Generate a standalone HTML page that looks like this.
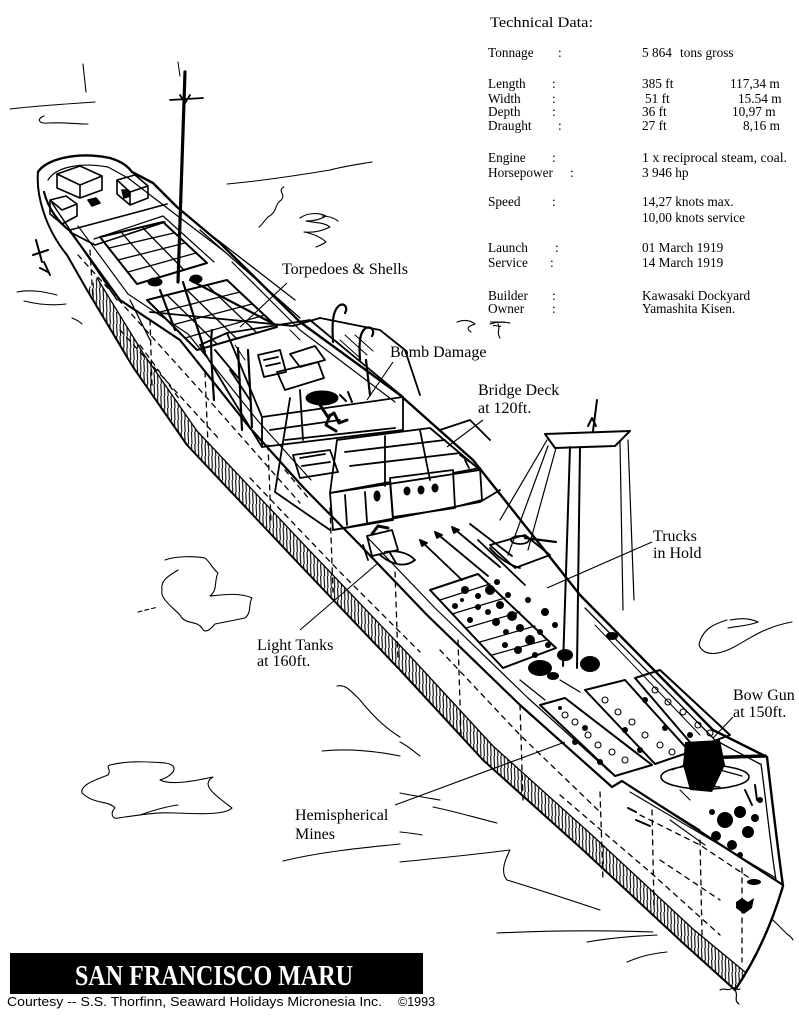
<!DOCTYPE html>
<html><head><meta charset="utf-8"><style>
html,body{margin:0;padding:0;background:#fff;}
svg{display:block;}
</style></head><body>
<svg width="799" height="1024" viewBox="0 0 799 1024" xmlns="http://www.w3.org/2000/svg">
<defs>
  <pattern id="hatch" patternUnits="userSpaceOnUse" width="3.4" height="12">
    <line x1="1" y1="0" x2="1.6" y2="12" stroke="#000" stroke-width="1.1"/>
  </pattern>
</defs>
<rect width="799" height="1024" fill="#fff"/>

<!-- ===== WATER SQUIGGLES ===== -->
<g fill="none" stroke="#000" stroke-width="1.1" stroke-linecap="round" stroke-linejoin="round">
  <path d="M83,64 L86,92"/>
  <path d="M10,109 C35,106 65,104 95,102"/>
  <path d="M44,116 c-8,3 -5,8 4,7 c14,-1 28,1 40,1"/>
  <path d="M227,184 C260,181 300,175 330,170 C345,166 360,164 372,162"/>
  <path d="M284,187 c-8,4 4,8 -4,14 c-6,5 -2,10 -12,16 c-4,4 -6,8 -9,10"/>
  <path d="M300,218 c8,-6 20,-5 26,-2 c-6,4 -14,5 -20,5 c8,2 18,1 24,6 c-8,4 -16,6 -26,5 c10,2 18,6 22,10 c-4,3 -8,4 -10,5"/>
  <path d="M322,216 c6,0 12,2 16,5"/>
  <path d="M17,292 c14,-3 28,0 40,3"/>
  <path d="M24,301 c12,3 26,5 42,3"/>
  <path d="M72,318 c5,2 8,4 10,6"/>
  <path d="M165,560 C175,556 195,556 205,558 C210,562 212,568 218,573 C214,580 218,590 210,596 C220,595 240,592 252,598 C248,605 252,612 245,618 C235,620 225,622 215,624 C210,630 205,634 202,628 C196,620 185,625 180,615 C170,605 160,598 162,590 C160,580 170,575 178,570"/>
  <path d="M138,612 L158,607" stroke-dasharray="4 3"/>
  <path d="M110,765 C130,760 150,762 165,763 C180,765 175,775 160,780 C170,785 190,782 213,777 C200,785 215,795 232,808 C225,815 200,814 175,813 C155,812 140,815 118,818 C112,820 110,812 115,808 C108,800 95,805 82,793 C80,785 95,780 108,775 C112,770 105,767 110,765"/>
  <path d="M140,815 C160,808 170,806 178,805"/>
  <path d="M337,686 C345,684 350,690 360,700 C372,715 385,728 400,737"/>
  <path d="M322,751 C350,748 380,752 400,756"/>
  <path d="M283,861 C320,852 360,848 400,844"/>
  <path d="M400,862 C440,858 480,854 510,850 C505,860 500,872 507,880 C540,890 570,900 600,910"/>
  <path d="M497,933 C540,931 600,930 653,932"/>
  <path d="M587,942 C610,938 635,936 657,935"/>
  <path d="M627,962 c10,-4 20,-8 40,-10"/>
  <path d="M400,742 c8,4 12,8 20,14"/>
  <path d="M400,793 c15,3 28,5 40,7"/>
  <path d="M433,807 c20,4 40,10 64,16"/>
  <path d="M400,832 c10,1 18,2 22,3"/>
  <path d="M727,620 c-10,3 -25,8 -28,25 c5,12 20,10 35,2 c15,-8 30,-20 58,-25"/>
  <path d="M730,620 c10,-2 20,-2 28,2 c-10,4 -20,4 -30,6"/>
  <path d="M773,920 c6,6 10,10 14,14 c3,2 5,4 6,6"/>
  <path d="M720,990 c5,-3 8,2 12,-2 c3,-2 5,3 8,1"/>
  <path d="M457,322 c8,-3 14,-1 18,2 c-6,2 -10,4 -4,8"/>
  <path d="M490,324 c6,-2 14,-2 20,-1 M498,324 c3,4 -2,8 2,14"/>
</g>

<!-- ===== SHIP ===== -->
<g fill="none" stroke="#000" stroke-linecap="round" stroke-linejoin="round">
  <!-- hull bottom hatched band -->
  <path d="M87,290 L133,367 L187,445 L300,565 L400,670 L483,760 L583,850 L683,943 L735,990 L745,972 L693,929 L593,836 L493,746 L410,656 L310,551 L197,431 L143,353 L97,278 Z" fill="url(#hatch)" stroke="none"/>
  <path d="M97,278 L143,353 L197,431 L310,551 L410,656 L493,746 L593,836 L693,929 L745,972" stroke-width="1.3"/>
  <!-- hull outer line -->
  <path d="M38,172 C36,195 45,228 67,255 L87,290 L133,367 L187,445 L300,565 L400,670 L483,760 L583,850 L683,943 L735,990" stroke-width="2"/>
  <!-- stern top & starboard deck edge -->
  <path d="M38,172 C45,160 75,151 110,158 C120,161 128,166 132,172 L153,183 L177,207 L220,243 L300,322 L400,395 L473,460 L580,595 L713,730 L767,757" stroke-width="2.4"/>
  <path d="M48,180 C56,167 80,162 108,167 L128,178 L175,214 L225,252" stroke-width="1.2"/>
  <path d="M232,262 L300,330 L395,402" stroke-width="1.2"/>
  <path d="M585,608 L715,740 L760,764" stroke-width="1.3"/>
  <path d="M595,625 L700,735" stroke-width="1"/>
  <!-- port deck edge -->
  <path d="M44,192 C48,208 58,222 70,231 L120,300 L180,340 L250,428 L303,487 L360,545 L427,615 L520,705 L612,787 L622,781 L783,885" stroke-width="2.2"/>
  <path d="M78,226 L128,294 L188,334 L258,421 L311,480" stroke-width="1.2"/>
  <path d="M368,538 L435,608 L528,698 L610,772" stroke-width="1.2"/>
  <path d="M52,203 L117,300" stroke-width="1.5"/>
  <path d="M630,792 L776,878" stroke-width="1.1"/>
  <!-- stem -->
  <path d="M767,757 C772,800 778,850 783,886 C770,930 752,965 735,990" stroke-width="2.4"/>
  <path d="M761,764 C766,800 771,850 776,880" stroke-width="1.3"/>
  <path d="M735,990 c4,6 -2,10 4,14" stroke-width="1.2"/>

  <!-- hull plating dashed lines -->
  <g stroke-width="1.3" stroke-dasharray="5 5">
    <path d="M78,255 L200,390 L300,503"/>
    <path d="M120,330 L220,440"/>
    <path d="M250,478 L340,572 L420,652"/>
    <path d="M440,650 L520,735 L600,812"/>
    <path d="M560,795 L650,872 L720,935"/>
    <path d="M640,815 L700,845 L760,885"/>
    <path d="M90,250 L93,300"/>
    <path d="M150,320 L152,385"/>
    <path d="M205,372 L208,445"/>
    <path d="M268,445 L271,522"/>
    <path d="M330,508 L333,592"/>
    <path d="M395,572 L398,660"/>
    <path d="M458,640 L461,735"/>
    <path d="M520,705 L523,800"/>
    <path d="M600,792 L603,880"/>
    <path d="M652,810 L654,905"/>
    <path d="M700,840 L702,935"/>
    <path d="M742,868 L742,962"/>
    <path d="M140,345 L180,400"/>
    <path d="M285,470 L310,500"/>
    <path d="M660,860 L720,900"/>
  </g>
  <!-- stern rudder scribble -->
  <path d="M36,240 L42,262 M33,255 L48,250 M44,262 L50,275 M40,268 l8,4" stroke-width="2"/>

  <!-- poop structures -->
  <g stroke-width="1.6">
    <path d="M57,174 L80,166 L102,176 L80,185 Z"/>
    <path d="M57,174 L57,188 L80,198 L102,190 L102,176 M80,185 L80,198"/>
    <path d="M117,180 L135,175 L148,186 L130,192 Z M117,180 L117,194 L130,205 L148,198 L148,186 M130,192 L130,205"/>
    <path d="M50,200 L66,196 L77,204 L62,210 Z M50,200 L50,214 L62,224 L77,216 L77,204"/>
    <path d="M70,230 L145,210 L167,204 M70,232 L95,245 L165,222"/>
    <path d="M88,200 l8,-2 l4,5 l-8,3 z" fill="#000"/>
    <path d="M122,190 l6,0 l2,6 l-6,2 z" fill="#000"/>
  </g>

  <!-- aft mast -->
  <path d="M185,72 L178,282" stroke-width="3.2"/>
  <path d="M170,100 L203,98 M180,95 l5,8 l5,-8" stroke-width="1.8"/>
  <path d="M178,62 L180,76" stroke-width="1"/>

  <!-- aft hatches -->
  <g stroke-width="2">
    <path d="M100,237 L163,222 L207,263 L137,284 Z"/>
    <path d="M147,300 L227,280 L277,327 L197,350 Z"/>
    <path d="M94,239 L163,216 L214,262" stroke-width="1.2"/>
  </g>
  <g stroke-width="1.3">
    <path d="M109,248 L174,233 M118,260 L185,243 M128,272 L196,253 M121,232 L160,277 M142,227 L184,270"/>
    <path d="M160,312 L240,292 M172,325 L252,304 M185,338 L265,315 M167,295 L217,344 M187,290 L237,339 M207,285 L257,333"/>
    <path d="M200,230 L300,318 M215,238 L295,300 M130,300 L150,340"/>
  </g>
  <ellipse cx="155" cy="282" rx="7" ry="4" fill="#000"/>
  <ellipse cx="196" cy="279" rx="6" ry="4" fill="#000"/>
  <path d="M183,282 L205,352 M190,280 L270,322 M160,290 L175,330" stroke-width="2.2"/>

  <!-- midship house -->
  <g stroke-width="1.8">
    <path d="M150,312 L293,326 L320,318"/>
    <path d="M227,333 L310,320 L403,397 L262,417 Z"/>
    <path d="M262,417 L262,447 L403,430 L403,397"/>
    <path d="M227,333 L200,345 L230,395 L262,447"/>
    <path d="M215,350 L240,380 M230,370 L250,400"/>
    <path d="M320,318 L380,330 L405,350 L420,395"/>
    <path d="M258,355 L280,350 L286,372 L264,377 Z M264,360 l14,-3 M266,366 l14,-3"/>
    <path d="M277,372 L318,362 L324,378 L285,390 Z"/>
    <path d="M290,354 L315,346 L325,360 L300,367 Z"/>
    <path d="M300,390 L303,440 M290,398 L275,492"/>
    <path d="M270,430 L340,420 M285,440 L395,428"/>
  </g>
  <g stroke-width="1">
    <path d="M340,340 l20,18 M345,335 l22,20 M355,335 l18,16 M290,330 l10,10 M235,345 l10,15"/>
  </g>
  <!-- davits -->
  <g stroke-width="2.2">
    <path d="M333,342 C332,325 332,310 340,305 C345,303 348,308 345,313"/>
    <path d="M360,360 C359,345 359,332 366,328 C372,326 375,331 372,336"/>
    <path d="M212,330 C210,345 212,370 214,400"/>
    <path d="M238,348 L242,430"/>
    <path d="M248,350 L252,427"/>
    <path d="M366,360 L370,395"/>
  </g>
  <!-- bomb damage -->
  <ellipse cx="322" cy="398" rx="16" ry="7" fill="#000"/>
  <path d="M320,405 l8,12 l6,-4 l5,10 l8,-3 M330,415 l-4,10 l10,6" stroke-width="3"/>
  <path d="M340,395 l6,6 M348,392 l4,10" stroke-width="2"/>

  <!-- bridge -->
  <g stroke-width="1.8">
    <path d="M337,440 L430,428 L480,470 L330,493 Z"/>
    <path d="M345,452 L445,440 M350,466 L460,453 M385,436 L385,486 M420,430 L430,480"/>
    <path d="M390,478 L453,470 L455,508 L393,517 Z"/>
    <path d="M330,493 L390,482 L393,520 L333,530 Z M345,495 L347,525 M365,492 L367,522"/>
    <path d="M453,473 L480,468 L482,500 L455,507"/>
    <path d="M293,455 L330,450 L338,472 L300,478 Z M300,458 l25,-4 M302,466 l28,-4"/>
    <path d="M333,530 L480,502 L500,490"/>
    <path d="M275,492 L330,530"/>
    <path d="M440,430 L470,420 L490,440"/>
    <path d="M460,455 L470,462 M465,460 l4,8"/>
  </g>
  <ellipse cx="407" cy="491" rx="3" ry="4" fill="#000"/>
  <ellipse cx="421" cy="490" rx="3" ry="4" fill="#000"/>
  <ellipse cx="435" cy="488" rx="3" ry="4" fill="#000"/>
  <ellipse cx="377" cy="496" rx="3" ry="5" fill="#000"/>

  <!-- forward deck: tanks and torpedo arrows -->
  <g stroke-width="1.8">
    <path d="M367,536 L392,530 L398,550 L372,556 Z"/>
    <path d="M363,545 L368,560 M390,553 l6,10"/>
    <path d="M372,534 l6,-8 l10,2" stroke-width="3"/>
    <path d="M380,555 C392,565 405,568 415,560 C408,552 395,550 385,552"/>
    <path d="M420,540 L462,580 M435,532 L488,576 M452,527 L500,567 M470,524 L512,556 M478,540 L525,585"/>
    <path d="M420,540 l2,6 l5,-3 z M435,532 l2,6 l5,-3 z M452,527 l2,6 l5,-3 z" fill="#000"/>
    <path d="M490,545 L525,535 L550,555 L515,568 Z"/>
    <ellipse cx="520" cy="540" rx="9" ry="4"/>
    <path d="M525,538 L556,542" stroke-width="2.2"/>
    <path d="M490,548 C500,560 512,566 520,568"/>
  </g>
  <!-- hatch 3 with debris -->
  <path d="M430,590 L478,574 L556,648 L503,668 Z" stroke-width="2"/>
  <path d="M440,600 L490,584 M452,614 L505,598 M466,628 L520,612 M480,642 L535,626 M492,655 L546,640" stroke-width="1.2"/>
  <g fill="#000" stroke="none">
    <circle cx="465" cy="590" r="4"/><circle cx="478" cy="596" r="3"/><circle cx="490" cy="590" r="5"/>
    <circle cx="500" cy="605" r="4"/><circle cx="488" cy="612" r="3"/><circle cx="512" cy="616" r="5"/>
    <circle cx="520" cy="628" r="4"/><circle cx="506" cy="632" r="3"/><circle cx="530" cy="640" r="5"/>
    <circle cx="470" cy="620" r="3"/><circle cx="455" cy="606" r="3"/><circle cx="518" cy="650" r="4"/>
    <circle cx="540" cy="632" r="3"/><circle cx="497" cy="582" r="3"/><circle cx="508" cy="595" r="3"/>
    <ellipse cx="540" cy="668" rx="12" ry="8"/><ellipse cx="590" cy="664" rx="10" ry="8"/>
    <ellipse cx="565" cy="655" rx="8" ry="6"/><ellipse cx="553" cy="676" rx="6" ry="4"/>
    <circle cx="528" cy="600" r="3"/><circle cx="545" cy="612" r="4"/><circle cx="555" cy="625" r="3"/>
    <circle cx="478" cy="607" r="3"/><circle cx="496" cy="622" r="4"/><circle cx="462" cy="600" r="2"/>
    <circle cx="535" cy="655" r="3"/><circle cx="548" cy="645" r="3"/><circle cx="505" cy="645" r="3"/>
  </g>
  <!-- foremast -->
  <g stroke-width="2">
    <path d="M570,447 L563,666 M580,447 L577,668"/>
    <path d="M545,434 L630,431 L615,446 L555,448 Z"/>
    <path d="M593,431 L597,400 M588,426 l4,-8 l4,8"/>
  </g>
  <g stroke-width="1.2">
    <path d="M548,446 L508,555 M556,448 L528,550 M620,442 L623,610 M628,440 L634,600"/>
    <path d="M547,440 L500,520"/>
  </g>
  <!-- hatches 4/5/6 with mines -->
  <g stroke-width="2">
    <path d="M540,705 L565,698 L652,765 L615,776 Z"/>
    <path d="M585,690 L625,680 L690,752 L655,764 Z"/>
    <path d="M635,678 L660,670 L730,735 L695,748 Z"/>
    <path d="M520,680 L545,700 M560,680 L580,692" stroke-width="1.3"/>
  </g>
  <g stroke-width="1.1">
    <circle cx="565" cy="715" r="3"/><circle cx="575" cy="722" r="3"/><circle cx="588" cy="735" r="3"/>
    <circle cx="598" cy="745" r="3"/><circle cx="612" cy="752" r="3"/><circle cx="625" cy="760" r="3"/>
    <circle cx="605" cy="700" r="3"/><circle cx="618" cy="712" r="3"/><circle cx="632" cy="722" r="3"/>
    <circle cx="645" cy="735" r="3"/><circle cx="660" cy="745" r="3"/><circle cx="672" cy="752" r="3"/>
    <circle cx="655" cy="690" r="3"/><circle cx="668" cy="702" r="3"/><circle cx="683" cy="712" r="3"/>
    <circle cx="698" cy="725" r="3"/><circle cx="710" cy="733" r="3"/>
  </g>
  <g fill="#000" stroke="none">
    <circle cx="585" cy="728" r="3"/><circle cx="625" cy="730" r="3"/><circle cx="645" cy="700" r="3"/>
    <circle cx="600" cy="762" r="3"/><circle cx="665" cy="728" r="3"/><circle cx="560" cy="708" r="2"/>
    <ellipse cx="612" cy="636" rx="6" ry="4"/>
    <circle cx="575" cy="742" r="3"/><circle cx="640" cy="750" r="3"/><circle cx="690" cy="735" r="3"/>
  </g>
  <!-- forecastle & bow gun -->
  <ellipse cx="705" cy="777" rx="44" ry="12" stroke-width="1.6"/>
  <path d="M685,742 L720,740 L725,765 L712,792 L690,790 L683,765 Z" fill="#000" stroke="none"/>
  <path d="M700,758 L765,756" stroke-width="3.5"/>
  <path d="M672,770 l20,-8 M720,770 l22,6 M690,785 l30,2" stroke-width="1.2"/>
  <g fill="#000" stroke="none">
    <circle cx="725" cy="820" r="8"/><circle cx="740" cy="812" r="6"/><circle cx="748" cy="832" r="6"/>
    <circle cx="716" cy="836" r="5"/><circle cx="732" cy="845" r="5"/><circle cx="755" cy="818" r="4"/>
    <circle cx="760" cy="800" r="3"/><circle cx="740" cy="855" r="3"/><circle cx="712" cy="812" r="3"/>
    <ellipse cx="754" cy="882" rx="7" ry="3"/>
    <path d="M736,902 l6,-4 l6,4 l6,-4 l-2,10 l-8,6 l-8,-6 z"/>
  </g>
  <path d="M745,790 L752,805 M755,785 l2,15" stroke-width="2"/>
  <path d="M660,805 L700,830 M670,820 L705,845 M680,790 L690,800" stroke-width="1.1"/>
  <path d="M628,808 l8,4 M636,820 l14,6" stroke-width="2"/>
</g>

<!-- ===== LEADER LINES ===== -->
<g stroke="#000" stroke-width="1.1" fill="none">
  <path d="M287,283 L240,327"/>
  <path d="M393,362 L367,400"/>
  <path d="M483,420 L447,447"/>
  <path d="M300,630 L378,563"/>
  <path d="M652,542 L547,588"/>
  <path d="M733,717 L713,738"/>
  <path d="M395,805 L565,742"/>
</g>

<!-- ===== LABELS ===== -->
<g font-family="'Liberation Serif', serif" font-size="16" fill="#000">
  <text x="282" y="274">Torpedoes &amp; Shells</text>
  <text x="390" y="357">Bomb Damage</text>
  <text x="478" y="395">Bridge Deck</text>
  <text x="478" y="413">at 120ft.</text>
  <text x="653" y="541">Trucks</text>
  <text x="653" y="558">in Hold</text>
  <text x="257" y="650">Light Tanks</text>
  <text x="257" y="666">at 160ft.</text>
  <text x="733" y="700">Bow Gun</text>
  <text x="733" y="717">at 150ft.</text>
  <text x="295" y="820">Hemispherical</text>
  <text x="295" y="839">Mines</text>
</g>

<!-- ===== TECHNICAL DATA ===== -->
<g font-family="'Liberation Serif', serif" font-size="13.3" fill="#000">
  <text x="490" y="27" font-size="14.5" textLength="103" lengthAdjust="spacingAndGlyphs">Technical Data:</text>
  <text x="488" y="57">Tonnage</text><text x="558" y="57">:</text><text x="642" y="57">5 864</text><text x="680" y="57">tons gross</text>
  <text x="488" y="88">Length</text><text x="552" y="88">:</text><text x="642" y="88">385 ft</text><text x="730" y="88">117,34 m</text>
  <text x="488" y="103">Width</text><text x="552" y="103">:</text><text x="645" y="103">51 ft</text><text x="738" y="103">15.54 m</text>
  <text x="488" y="116">Depth</text><text x="552" y="116">:</text><text x="642" y="116">36 ft</text><text x="732" y="116">10,97 m</text>
  <text x="488" y="130">Draught</text><text x="558" y="130">:</text><text x="642" y="130">27 ft</text><text x="743" y="130">8,16 m</text>
  <text x="488" y="162">Engine</text><text x="552" y="162">:</text><text x="642" y="162" textLength="145" lengthAdjust="spacingAndGlyphs">1 x reciprocal steam, coal.</text>
  <text x="488" y="177">Horsepower</text><text x="570" y="177">:</text><text x="642" y="177">3 946 hp</text>
  <text x="488" y="206">Speed</text><text x="552" y="206">:</text><text x="642" y="206">14,27 knots max.</text>
  <text x="642" y="222">10,00 knots service</text>
  <text x="488" y="252">Launch</text><text x="555" y="252">:</text><text x="642" y="252">01 March 1919</text>
  <text x="488" y="267">Service</text><text x="550" y="267">:</text><text x="642" y="267">14 March 1919</text>
  <text x="488" y="300">Builder</text><text x="552" y="300">:</text><text x="642" y="300">Kawasaki Dockyard</text>
  <text x="488" y="313">Owner</text><text x="552" y="313">:</text><text x="642" y="313">Yamashita Kisen.</text>
</g>
<path d="M490,322 L505,322 M493,326 c3,-2 6,2 8,0" stroke="#000" stroke-width="1" fill="none"/>

<!-- ===== TITLE BANNER ===== -->
<rect x="10" y="953" width="413" height="41" fill="#000"/>
<text x="75" y="985" font-family="'Liberation Serif', serif" font-weight="bold" font-size="29" fill="#fff" textLength="278" lengthAdjust="spacingAndGlyphs">SAN FRANCISCO MARU</text>
<text x="7" y="1006" font-family="'Liberation Sans', sans-serif" font-size="12.5" fill="#000" textLength="375" lengthAdjust="spacingAndGlyphs">Courtesy -- S.S. Thorfinn, Seaward Holidays Micronesia Inc.</text>
<text x="398" y="1006" font-family="'Liberation Sans', sans-serif" font-size="12.5" fill="#000">©1993</text>
</svg>
</body></html>
